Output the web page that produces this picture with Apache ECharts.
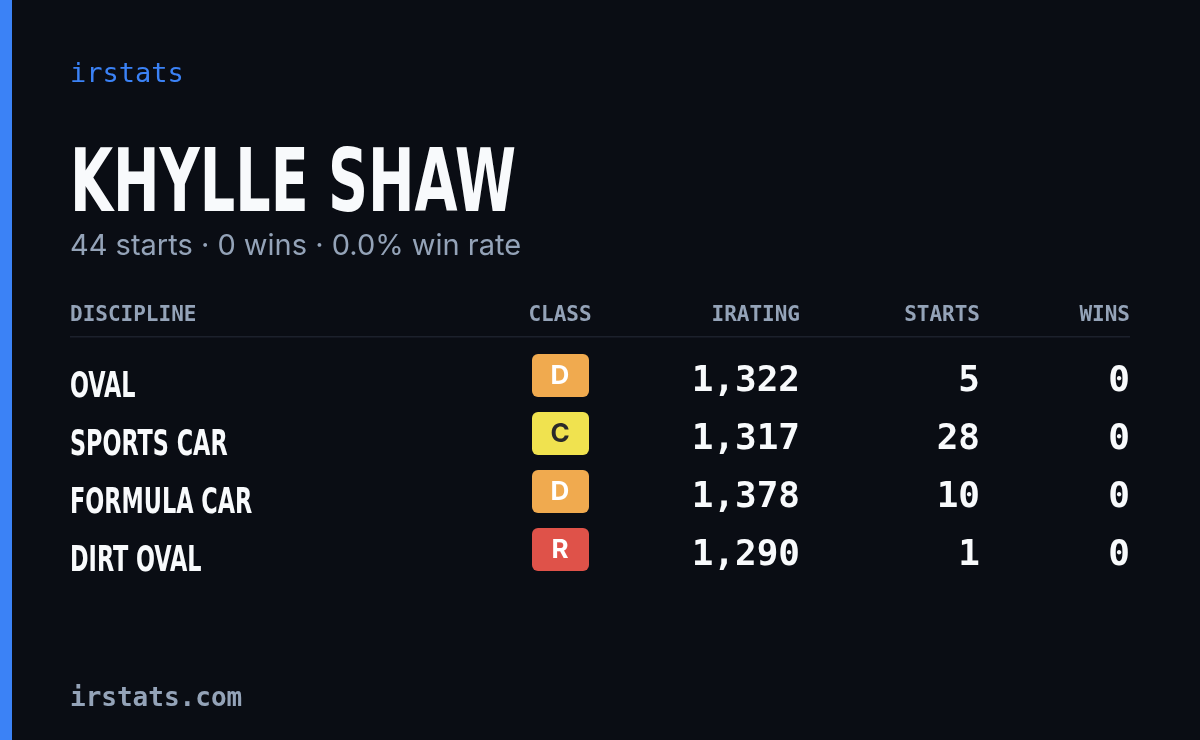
<!DOCTYPE html>
<html>
<head>
<meta charset="utf-8">
<script src="https://cdn.jsdelivr.net/npm/echarts@6/dist/echarts.min.js"></script>
<style>html,body{margin:0;padding:0;background:#0a0d14;}#main{width:1200px;height:740px;}</style>
</head>
<body>
<div id="main"></div>
<script>
// data
var driverName = 'KHYLLE SHAW';
var summary = '44 starts · 0 wins · 0.0% win rate';
var headers = ['DISCIPLINE', 'CLASS', 'IRATING', 'STARTS', 'WINS'];
var disciplines = ['OVAL', 'SPORTS CAR', 'FORMULA CAR', 'DIRT OVAL'];
var classes = ['D', 'C', 'D', 'R'];
var iratings = [1322, 1317, 1378, 1290];
var starts = [5, 28, 10, 1];
var wins = [0, 0, 0, 0];

var classColors = { D: '#f0aa4f', C: '#f0e24f', R: '#df5249' };
var classText = { D: '#ffffff', C: '#2a2a2a', R: '#ffffff' };
var mono = 'DejaVu Sans Mono';
var cond = 'DejaVu Sans Condensed';

var chart = echarts.init(document.getElementById('main'));
var g = [];
g.push({ type: 'rect', shape: { x: 0, y: 0, width: 12, height: 740 }, style: { fill: '#3b82f6' } });
g.push({ type: 'text', x: 70, y: 75, style: { text: 'irstats', fill: '#3b82f6', font: '27px ' + mono, textVerticalAlign: 'middle' } });
g.push({ type: 'text', x: 70, y: 188, scaleX: 0.71, style: { text: driverName, fill: '#f8fafc', font: 'bold 87px ' + cond, textVerticalAlign: 'middle' } });
g.push({ type: 'text', x: 70, y: 246, style: { text: summary, fill: '#94a3b8', font: '29px Inter', textVerticalAlign: 'middle' } });

var colX = [70, 560, 800, 980, 1130];
var colAlign = ['left', 'center', 'right', 'right', 'right'];
headers.forEach(function (h, i) {
  g.push({ type: 'text', x: colX[i], y: 316, style: { text: h, fill: '#94a3b8', font: 'bold 21px ' + mono, textAlign: colAlign[i], textVerticalAlign: 'middle' } });
});
g.push({ type: 'rect', shape: { x: 70, y: 336, width: 1060, height: 1.5 }, style: { fill: '#1c212c' } });

disciplines.forEach(function (d, r) {
  var y = 380 + r * 58;
  g.push({ type: 'text', x: 70, y: y + 8, scaleX: 0.71, style: { text: d, fill: '#f8fafc', font: 'bold 35px ' + cond, textVerticalAlign: 'middle' } });
  g.push({ type: 'rect', shape: { x: 532, y: y - 26, width: 57, height: 43, r: 6 }, style: { fill: classColors[classes[r]] } });
  g.push({ type: 'text', x: 560, y: y - 4, style: { text: classes[r], fill: classText[classes[r]], font: 'bold 26px Inter', textAlign: 'center', textVerticalAlign: 'middle' } });
  [iratings[r].toLocaleString('en-US'), String(starts[r]), String(wins[r])].forEach(function (v, i) {
    g.push({ type: 'text', x: colX[i + 2], y: y + 2, style: { text: v, fill: '#f8fafc', font: 'bold 36px ' + mono, textAlign: 'right', textVerticalAlign: 'middle' } });
  });
});

g.push({ type: 'text', x: 70, y: 699, style: { text: 'irstats.com', fill: '#94a3b8', font: 'bold 26px ' + mono, textVerticalAlign: 'middle' } });

chart.setOption({ backgroundColor: '#0a0d14', animation: false, graphic: g });
</script>
</body>
</html>
